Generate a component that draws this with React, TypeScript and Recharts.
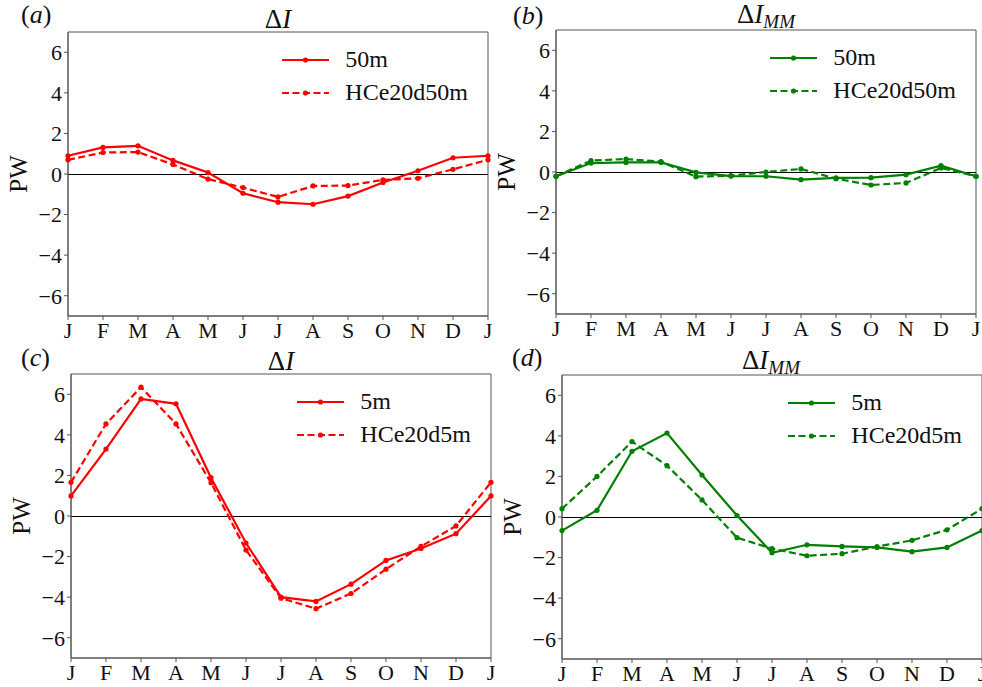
import React from 'react';
import { LineChart, Line, XAxis, YAxis, ReferenceLine, ReferenceArea, Legend, Label } from 'recharts';

const months = ['J', 'F', 'M', 'A', 'M', 'J', 'J', 'A', 'S', 'O', 'N', 'D', 'J'];
const yTicks = [-6, -4, -2, 0, 2, 4, 6];

// (a) ΔI, 50 m
const dI50 = [0.9, 1.31, 1.39, 0.67, 0.07, -0.95, -1.39, -1.49, -1.09, -0.42, 0.16, 0.8, 0.9];
const dI50hc = [0.7, 1.06, 1.08, 0.47, -0.25, -0.67, -1.13, -0.59, -0.57, -0.29, -0.21, 0.23, 0.7];
// (b) ΔI_MM, 50 m
const dMM50 = [-0.21, 0.44, 0.47, 0.47, -0.02, -0.2, -0.21, -0.38, -0.29, -0.28, -0.13, 0.31, -0.21];
const dMM50hc = [-0.21, 0.56, 0.64, 0.51, -0.23, -0.18, 0.0, 0.15, -0.33, -0.64, -0.54, 0.2, -0.21];
// (c) ΔI, 5 m
const dI5 = [0.99, 3.3, 5.77, 5.53, 1.89, -1.33, -4.0, -4.21, -3.36, -2.19, -1.6, -0.87, 0.99];
const dI5hc = [1.66, 4.54, 6.35, 4.54, 1.64, -1.68, -4.05, -4.57, -3.82, -2.62, -1.5, -0.49, 1.66];
// (d) ΔI_MM, 5 m
const dMM5 = [-0.67, 0.33, 3.24, 4.14, 2.07, 0.07, -1.76, -1.37, -1.45, -1.5, -1.71, -1.5, -0.67];
const dMM5hc = [0.41, 2.0, 3.72, 2.53, 0.84, -1.02, -1.56, -1.91, -1.81, -1.46, -1.15, -0.63, 0.41];

const FONT = 'Liberation Serif';
const RED = '#ff0000';
const GREEN = '#008000';
const SPINE = '#555555';

const PLOT_W = 420;
const PLOT_H = 284;
const M_TOP = 40;
const M_LEFT = 28;
const Y_W = 40;
const X_H = 30;
const CHART_W = M_LEFT + Y_W + PLOT_W + 4;
const CHART_H = M_TOP + PLOT_H + X_H;

const fmtY = (v: number) => (v < 0 ? '\u2212' + Math.abs(v) : String(v));

type PanelProps = {
  plotLeft: number;
  plotTop: number;
  solid: number[];
  dashed: number[];
  solidName: string;
  dashedName: string;
  color: string;
};

const LegendBox = ({ color, names }: { color: string; names: string[] }) => (
  <div style={{ fontFamily: FONT, fontSize: 24, color: '#111', lineHeight: '33px' }}>
    {names.map((n, i) => (
      <div key={n} style={{ display: 'flex', alignItems: 'center' }}>
        <svg width={47} height={10} style={{ marginRight: 16 }}>
          <line
            x1={0}
            y1={5}
            x2={47}
            y2={5}
            stroke={color}
            strokeWidth={2}
            strokeDasharray={i === 1 ? '7 3.5' : undefined}
          />
          <circle cx={23.5} cy={5} r={2.6} fill={color} />
        </svg>
        <span>{n}</span>
      </div>
    ))}
  </div>
);

const Panel = ({ plotLeft, plotTop, solid, dashed, solidName, dashedName, color }: PanelProps) => {
  const data = months.map((label, i) => ({ m: i, label, s: solid[i], d: dashed[i] }));
  const left = plotLeft - M_LEFT - Y_W;
  const top = plotTop - M_TOP;
  return (
    <div style={{ position: 'absolute', left, top }}>
      <LineChart
        width={CHART_W}
        height={CHART_H}
        data={data}
        margin={{ top: M_TOP, right: 4, bottom: 0, left: M_LEFT }}
      >
        <XAxis
          dataKey="m"
          type="number"
          domain={[0, 12]}
          ticks={months.map((_, i) => i)}
          tickFormatter={(v: number) => months[v]}
          height={X_H}
          tickSize={4}
          tickMargin={2}
          interval={0}
          stroke={SPINE}
          tick={{ fill: '#111', fontSize: 22, fontFamily: FONT }}
        />
        <YAxis
          type="number"
          domain={[-7, 7]}
          ticks={yTicks}
          tickFormatter={fmtY}
          width={Y_W}
          tickSize={4}
          tickMargin={2}
          stroke={SPINE}
          allowDataOverflow
          tick={{ fill: '#111', fontSize: 22, fontFamily: FONT }}
        >
          <Label
            content={(props: any) => {
              const vb = props.viewBox || {};
              const cx = vb.x + vb.width - 50;
              const cy = vb.y + vb.height / 2;
              return (
                <text
                  x={cx}
                  y={cy}
                  transform={`rotate(-90 ${cx} ${cy})`}
                  textAnchor="middle"
                  dominantBaseline="central"
                  fontFamily={FONT}
                  fontSize={25}
                  fill="#111"
                >
                  PW
                </text>
              );
            }}
          />
        </YAxis>
        <ReferenceArea x1={0} x2={12} y1={-7} y2={7} fill="none" stroke={SPINE} strokeWidth={1} ifOverflow="extendDomain" />
        <ReferenceLine y={0} stroke="#000" strokeWidth={1} shapeRendering="crispEdges" />
        <Legend
          layout="vertical"
          align="center"
          verticalAlign="middle"
          wrapperStyle={{ top: plotTop - top + 11, right: 4 + 20, left: 'auto', width: 'auto' }}
          content={() => <LegendBox color={color} names={[solidName, dashedName]} />}
        />
        <Line
          dataKey="s"
          name={solidName}
          stroke={color}
          strokeWidth={2.2}
          dot={{ r: 2.6, fill: color, stroke: color, strokeWidth: 0 }}
          isAnimationActive={false}
        />
        <Line
          dataKey="d"
          name={dashedName}
          stroke={color}
          strokeWidth={2.2}
          strokeDasharray="7 3.5"
          dot={{ r: 2.6, fill: color, stroke: color, strokeWidth: 0 }}
          isAnimationActive={false}
        />
      </LineChart>
    </div>
  );
};

// panel tags and titles: [tag, tagX, tagBaseline, titleCenterX, titleBaseline, hasMM]
const headers: [string, number, number, number, number, boolean][] = [
  ['a', 21, 23, 278, 28, false],
  ['b', 513, 24, 766, 23, true],
  ['c', 21, 366, 281, 370, false],
  ['d', 512, 366, 771, 369, true],
];

const Headers = () => (
  <svg width={982} height={687} style={{ position: 'absolute', left: 0, top: 0, pointerEvents: 'none' }}>
    {headers.map(([tag, tx, ty, cx, cy, mm]) => (
      <g key={tag} fontFamily={FONT} fill="#111">
        <text x={tx} y={ty} fontSize={26}>
          (<tspan fontStyle="italic">{tag}</tspan>)
        </text>
        <text x={cx} y={cy} fontSize={27} textAnchor="middle">
          Δ<tspan fontStyle="italic">I</tspan>
          {mm && (
            <tspan fontStyle="italic" fontSize={19} dy={5}>
              MM
            </tspan>
          )}
        </text>
      </g>
    ))}
  </svg>
);

export default function App() {
  return (
    <div
      style={{
        position: 'absolute',
        left: 0,
        top: 0,
        width: 982,
        height: 687,
        overflow: 'hidden',
        background: '#fff',
      }}
    >
      <Panel plotLeft={68} plotTop={32} solid={dI50} dashed={dI50hc} solidName="50m" dashedName="HCe20d50m" color={RED} />
      <Panel plotLeft={556} plotTop={30} solid={dMM50} dashed={dMM50hc} solidName="50m" dashedName="HCe20d50m" color={GREEN} />
      <Panel plotLeft={71} plotTop={374} solid={dI5} dashed={dI5hc} solidName="5m" dashedName="HCe20d5m" color={RED} />
      <Panel plotLeft={562} plotTop={375} solid={dMM5} dashed={dMM5hc} solidName="5m" dashedName="HCe20d5m" color={GREEN} />
      <Headers />
    </div>
  );
}
